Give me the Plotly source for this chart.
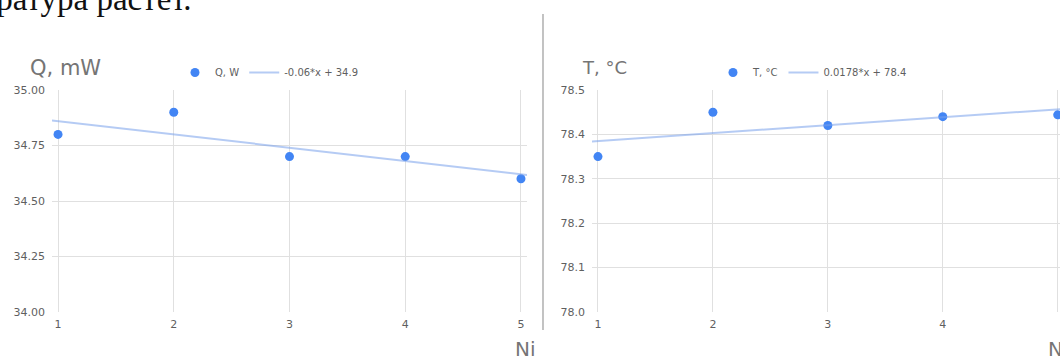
import plotly.graph_objects as go

W, H = 1060, 361

# Measurements per sample
samples = [1, 2, 3, 4, 5]
heat_q = [34.80, 34.90, 34.70, 34.70, 34.60]          # Q, mW
temp_t = [78.35, 78.45, 78.42, 78.44, 78.444]         # T, °C

q_ticks = [34.00, 34.25, 34.50, 34.75, 35.00]
q_tick_text = ["34.00", "34.25", "34.50", "34.75", "35.00"]
t_ticks = [78.0, 78.1, 78.2, 78.3, 78.4, 78.5]
t_tick_text = ["78.0", "78.1", "78.2", "78.3", "78.4", "78.5"]


def linfit(xs, ys):
    n = len(xs)
    mx = sum(xs) / n
    my = sum(ys) / n
    sxy = sum((x - mx) * (y - my) for x, y in zip(xs, ys))
    sxx = sum((x - mx) ** 2 for x in xs)
    k = sxy / sxx
    return k, my - k * mx


def px_x(p):
    return p / W


def px_y(p):
    return 1 - p / H


POINT = "#4285F4"
TREND = "rgba(120,160,235,0.55)"
GRID = "#e0e0e0"
TXT = "#5f5f5f"
FONT = "DejaVu Sans, sans-serif"

kq, bq = linfit(samples, heat_q)
kt, bt = linfit(samples, temp_t)
x_line = [0.9, 5.2]

fig = go.Figure()

fig.add_trace(go.Scatter(
    x=samples, y=heat_q, mode="markers", name="Q, W",
    marker=dict(color=POINT, size=9), xaxis="x", yaxis="y", legend="legend"))
fig.add_trace(go.Scatter(
    x=x_line, y=[kq * x + bq for x in x_line], mode="lines",
    name=f"{kq:.2f}*x + {bq:.1f}",
    line=dict(color=TREND, width=2), xaxis="x", yaxis="y", legend="legend"))

fig.add_trace(go.Scatter(
    x=samples, y=temp_t, mode="markers", name="T, °C",
    marker=dict(color=POINT, size=9), xaxis="x2", yaxis="y2", legend="legend2"))
fig.add_trace(go.Scatter(
    x=x_line, y=[kt * x + bt for x in x_line], mode="lines",
    name=f"{kt:.4f}*x + {bt:.1f}",
    line=dict(color=TREND, width=2), xaxis="x2", yaxis="y2", legend="legend2"))

axis_common = dict(
    showgrid=True, gridcolor=GRID, gridwidth=1, zeroline=False,
    showline=False, ticks="", tickfont=dict(family=FONT, size=11, color=TXT),
    fixedrange=True, automargin=False,
)

y_dom = [px_y(312), px_y(90)]

fig.update_layout(
    template="none",
    width=W, height=H,
    margin=dict(l=0, r=0, t=0, b=0, autoexpand=False),
    paper_bgcolor="white", plot_bgcolor="white",
    xaxis=dict(domain=[px_x(52), px_x(527)], range=[0.948, 5.052],
               tickvals=samples, ticktext=[str(s) for s in samples],
               anchor="y", ticklabelstandoff=4, **axis_common),
    yaxis=dict(domain=y_dom, range=[34.0, 35.0], tickvals=q_ticks,
               ticktext=q_tick_text, anchor="x", ticklabelstandoff=6,
               **axis_common),
    xaxis2=dict(domain=[px_x(592), 1.0], range=[0.948, 5.02],
                tickvals=samples, ticktext=[str(s) for s in samples],
                anchor="y2", ticklabelstandoff=4, **axis_common),
    yaxis2=dict(domain=y_dom, range=[78.0, 78.5], tickvals=t_ticks,
                ticktext=t_tick_text, anchor="x2", ticklabelstandoff=6,
                **axis_common),
    legend=dict(orientation="h", x=px_x(175), y=px_y(58), xanchor="left",
                yanchor="top", font=dict(family=FONT, size=10, color=TXT),
                bgcolor="rgba(0,0,0,0)", itemwidth=30, tracegroupgap=0),
    legend2=dict(orientation="h", x=px_x(713), y=px_y(58), xanchor="left",
                 yanchor="top", font=dict(family=FONT, size=10, color=TXT),
                 bgcolor="rgba(0,0,0,0)", itemwidth=30, tracegroupgap=0),
    showlegend=True,
)

# Chart titles and x-axis captions
fig.add_annotation(text="Q, mW", x=px_x(28), y=px_y(68), xref="paper", yref="paper",
                   xanchor="left", yanchor="middle", showarrow=False,
                   font=dict(family=FONT, size=21, color="#757575"))
fig.add_annotation(text="T, °C", x=px_x(580), y=px_y(68), xref="paper", yref="paper",
                   xanchor="left", yanchor="middle", showarrow=False,
                   font=dict(family=FONT, size=18, color="#757575"))
fig.add_annotation(text="Ni", x=px_x(513), y=px_y(349), xref="paper", yref="paper",
                   xanchor="left", yanchor="middle", showarrow=False,
                   font=dict(family=FONT, size=20, color="#757575"))
fig.add_annotation(text="Ni", x=px_x(1046), y=px_y(349), xref="paper", yref="paper",
                   xanchor="left", yanchor="middle", showarrow=False,
                   font=dict(family=FONT, size=20, color="#757575"))

# Running text of the page above the charts
fig.add_annotation(text="температура растет.", x=px_x(194), y=px_y(19), xref="paper",
                   yref="paper", xanchor="right", yanchor="bottom", showarrow=False,
                   font=dict(family="Liberation Serif, serif", size=33, color="#111111"))

# Separator between the two charts
fig.add_shape(type="line", xref="paper", yref="paper",
              x0=px_x(543), x1=px_x(543), y0=px_y(330), y1=px_y(14),
              line=dict(color="#9a9a9a", width=1.2))

fig.write_html("out.html")
